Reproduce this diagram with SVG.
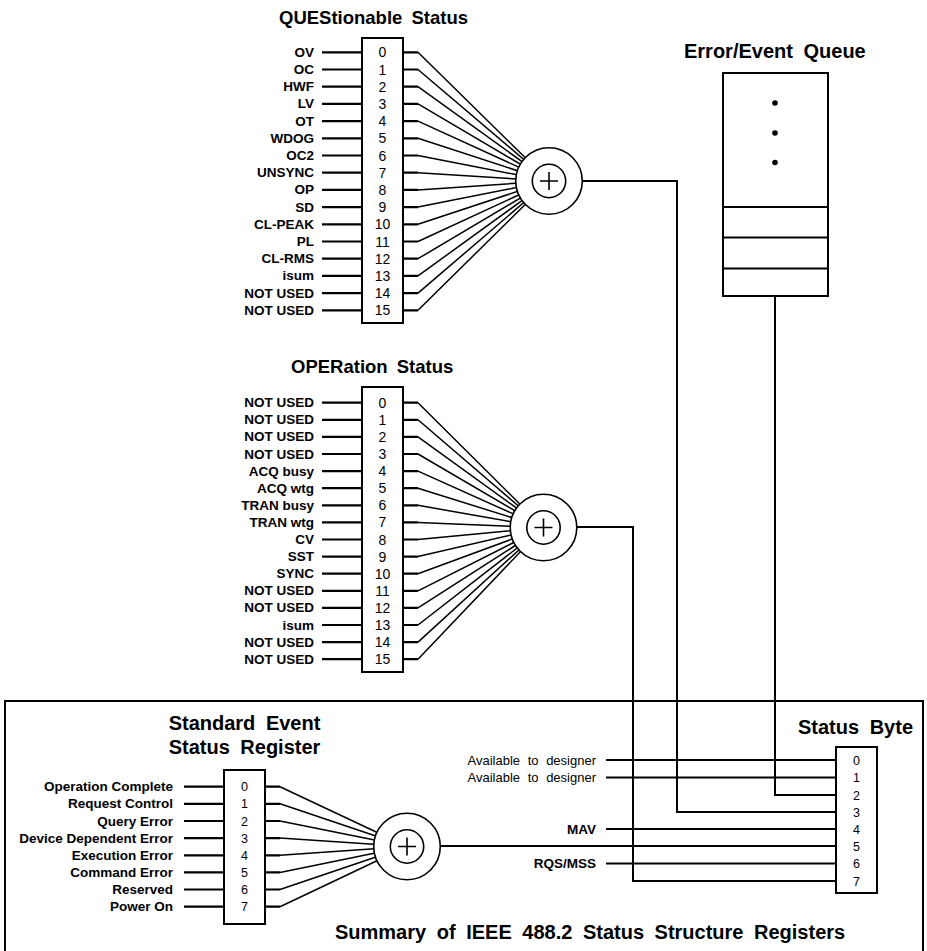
<svg xmlns="http://www.w3.org/2000/svg" width="927" height="951" viewBox="0 0 927 951">
<style>
text{font-family:"Liberation Sans",Arial,Helvetica,sans-serif;fill:#000}
.title{font-size:20px;font-weight:bold;word-spacing:5px}
.title2{font-size:18.5px;font-weight:bold;word-spacing:4px}
.lbl{font-size:13.5px;font-weight:bold;text-anchor:end}
.lblr{font-size:13px;text-anchor:end;word-spacing:4px}
.dig{font-size:14px;text-anchor:middle}
.dsm{font-size:12.5px;text-anchor:middle}
.box{fill:#fff;stroke:#000;stroke-width:2}
.sum{fill:#fff;stroke:#000;stroke-width:1.6}
.in{stroke:#000;stroke-width:2.2;fill:none}
.fan{stroke:#000;stroke-width:1.5;fill:none}
.wire{stroke:#000;stroke-width:2;fill:none}
</style>
<rect width="927" height="951" fill="#fff"/>
<!-- frame -->
<path d="M5,952 V701 H923 V952" fill="none" stroke="#000" stroke-width="2"/>
<g id="connectors">
  <!-- QUES inputs -->
  <g class="in">
    <path d="M322,52.3H362M322,69.5H362M322,86.7H362M322,103.9H362M322,121.1H362M322,138.3H362M322,155.5H362M322,172.7H362M322,189.9H362M322,207.1H362M322,224.3H362M322,241.5H362M322,258.7H362M322,275.9H362M322,293.1H362M322,310.3H362"/>
    <path d="M403,52.3H418M403,69.5H418M403,86.7H418M403,103.9H418M403,121.1H418M403,138.3H418M403,155.5H418M403,172.7H418M403,189.9H418M403,207.1H418M403,224.3H418M403,241.5H418M403,258.7H418M403,275.9H418M403,293.1H418M403,310.3H418"/>
  </g>
  <g class="fan">
    <path d="M418,52.3L549,181M418,69.5L549,181M418,86.7L549,181M418,103.9L549,181M418,121.1L549,181M418,138.3L549,181M418,155.5L549,181M418,172.7L549,181M418,189.9L549,181M418,207.1L549,181M418,224.3L549,181M418,241.5L549,181M418,258.7L549,181M418,275.9L549,181M418,293.1L549,181M418,310.3L549,181"/>
  </g>
  <!-- OPER inputs -->
  <g class="in">
    <path d="M322,402.7H362M322,419.8H362M322,436.9H362M322,454H362M322,471.1H362M322,488.2H362M322,505.3H362M322,522.4H362M322,539.5H362M322,556.6H362M322,573.7H362M322,590.8H362M322,607.9H362M322,625H362M322,642.1H362M322,659.2H362"/>
    <path d="M403,402.7H418M403,419.8H418M403,436.9H418M403,454H418M403,471.1H418M403,488.2H418M403,505.3H418M403,522.4H418M403,539.5H418M403,556.6H418M403,573.7H418M403,590.8H418M403,607.9H418M403,625H418M403,642.1H418M403,659.2H418"/>
  </g>
  <g class="fan">
    <path d="M418,402.7L543.5,527.5M418,419.8L543.5,527.5M418,436.9L543.5,527.5M418,454L543.5,527.5M418,471.1L543.5,527.5M418,488.2L543.5,527.5M418,505.3L543.5,527.5M418,522.4L543.5,527.5M418,539.5L543.5,527.5M418,556.6L543.5,527.5M418,573.7L543.5,527.5M418,590.8L543.5,527.5M418,607.9L543.5,527.5M418,625L543.5,527.5M418,642.1L543.5,527.5M418,659.2L543.5,527.5"/>
  </g>
  <!-- SESR inputs -->
  <g class="in">
    <path d="M184,786.7H224M184,803.8H224M184,821H224M184,838.1H224M184,855.3H224M184,872.4H224M184,889.5H224M184,906.7H224"/>
    <path d="M265,786.7H280M265,803.8H280M265,821H280M265,838.1H280M265,855.3H280M265,872.4H280M265,889.5H280M265,906.7H280"/>
  </g>
  <g class="fan">
    <path d="M280,786.7L407,846.5M280,803.8L407,846.5M280,821L407,846.5M280,838.1L407,846.5M280,855.3L407,846.5M280,872.4L407,846.5M280,889.5L407,846.5M280,906.7L407,846.5"/>
  </g>
  <!-- summary wires to status byte -->
  <g class="wire">
    <path d="M582,181H677V812H836"/>
    <path d="M577,527H633V881H836"/>
    <path d="M775,296V795H836"/>
    <path d="M606,760H836"/>
    <path d="M606,777.5H836"/>
    <path d="M606,829H836"/>
    <path d="M440,846H836"/>
    <path d="M606,863.5H836"/>
  </g>
</g>
<g id="questionable">
  <text class="title2" x="279" y="24">QUEStionable Status</text>
  <rect class="box" x="362" y="38" width="41" height="285"/>
  <g class="dig">
    <text x="382.5" y="57.3">0</text><text x="382.5" y="74.5">1</text><text x="382.5" y="91.7">2</text><text x="382.5" y="108.9">3</text>
    <text x="382.5" y="126.1">4</text><text x="382.5" y="143.3">5</text><text x="382.5" y="160.5">6</text><text x="382.5" y="177.7">7</text>
    <text x="382.5" y="194.9">8</text><text x="382.5" y="212.1">9</text><text x="382.5" y="229.3">10</text><text x="382.5" y="246.5">11</text>
    <text x="382.5" y="263.7">12</text><text x="382.5" y="280.9">13</text><text x="382.5" y="298.1">14</text><text x="382.5" y="315.3">15</text>
  </g>
  <g class="lbl">
    <text x="314" y="56.8">OV</text><text x="314" y="74">OC</text><text x="314" y="91.2">HWF</text><text x="314" y="108.4">LV</text>
    <text x="314" y="125.6">OT</text><text x="314" y="142.8">WDOG</text><text x="314" y="160">OC2</text><text x="314" y="177.2">UNSYNC</text>
    <text x="314" y="194.4">OP</text><text x="314" y="211.6">SD</text><text x="314" y="228.8">CL-PEAK</text><text x="314" y="246">PL</text>
    <text x="314" y="263.2">CL-RMS</text><text x="314" y="280.4">isum</text><text x="314" y="297.6">NOT USED</text><text x="314" y="314.8">NOT USED</text>
  </g>
</g>
<g id="ques-sum">
  <circle class="sum" cx="549" cy="181" r="33.3"/>
  <circle class="sum" cx="549" cy="181" r="16.7"/>
  <path d="M540,181H558M549,172V190" stroke="#000" stroke-width="1.6"/>
</g>
<g id="operation">
  <text class="title2" x="291" y="373">OPERation Status</text>
  <rect class="box" x="362" y="387" width="41" height="285"/>
  <g class="dig">
    <text x="382.5" y="407.7">0</text><text x="382.5" y="424.8">1</text><text x="382.5" y="441.9">2</text><text x="382.5" y="459">3</text>
    <text x="382.5" y="476.1">4</text><text x="382.5" y="493.2">5</text><text x="382.5" y="510.3">6</text><text x="382.5" y="527.4">7</text>
    <text x="382.5" y="544.5">8</text><text x="382.5" y="561.6">9</text><text x="382.5" y="578.7">10</text><text x="382.5" y="595.8">11</text>
    <text x="382.5" y="612.9">12</text><text x="382.5" y="630">13</text><text x="382.5" y="647.1">14</text><text x="382.5" y="664.2">15</text>
  </g>
  <g class="lbl">
    <text x="314" y="407.2">NOT USED</text><text x="314" y="424.3">NOT USED</text><text x="314" y="441.4">NOT USED</text><text x="314" y="458.5">NOT USED</text>
    <text x="314" y="475.6">ACQ busy</text><text x="314" y="492.7">ACQ wtg</text><text x="314" y="509.8">TRAN busy</text><text x="314" y="526.9">TRAN wtg</text>
    <text x="314" y="544">CV</text><text x="314" y="561.1">SST</text><text x="314" y="578.2">SYNC</text><text x="314" y="595.3">NOT USED</text>
    <text x="314" y="612.4">NOT USED</text><text x="314" y="629.5">isum</text><text x="314" y="646.6">NOT USED</text><text x="314" y="663.7">NOT USED</text>
  </g>
</g>
<g id="oper-sum">
  <circle class="sum" cx="543.5" cy="527.5" r="33.3"/>
  <circle class="sum" cx="543.5" cy="527.5" r="16.7"/>
  <path d="M534.5,527.5H552.5M543.5,518.5V536.5" stroke="#000" stroke-width="1.6"/>
</g>
<g id="error-queue">
  <text class="title" x="684" y="58">Error/Event Queue</text>
  <rect class="box" x="723" y="73" width="105" height="223"/>
  <path d="M723,207H828M723,237.5H828M723,268.5H828" stroke="#000" stroke-width="2"/>
  <circle cx="775" cy="103" r="2.8"/>
  <circle cx="775" cy="133" r="2.8"/>
  <circle cx="775" cy="162.5" r="2.8"/>
</g>
<g id="standard-event">
  <text class="title" x="244.5" y="730" text-anchor="middle">Standard Event</text>
  <text class="title" x="244.5" y="754" text-anchor="middle">Status Register</text>
  <rect class="box" x="224" y="770" width="41" height="154"/>
  <g class="dsm">
    <text x="244.5" y="791.2">0</text><text x="244.5" y="808.3">1</text><text x="244.5" y="825.5">2</text><text x="244.5" y="842.6">3</text>
    <text x="244.5" y="859.8">4</text><text x="244.5" y="876.9">5</text><text x="244.5" y="894">6</text><text x="244.5" y="911.2">7</text>
  </g>
  <g class="lbl">
    <text x="173" y="791.2">Operation Complete</text><text x="173" y="808.3">Request Control</text>
    <text x="173" y="825.5">Query Error</text><text x="173" y="842.6">Device Dependent Error</text>
    <text x="173" y="859.8">Execution Error</text><text x="173" y="876.9">Command Error</text>
    <text x="173" y="894">Reserved</text><text x="173" y="911.2">Power On</text>
  </g>
</g>
<g id="sesr-sum">
  <circle class="sum" cx="407" cy="846.5" r="33.3"/>
  <circle class="sum" cx="407" cy="846.5" r="16.7"/>
  <path d="M398,846.5H416M407,837.5V855.5" stroke="#000" stroke-width="1.6"/>
</g>
<g id="status-byte">
  <text class="title" x="798" y="734">Status Byte</text>
  <rect class="box" x="836" y="747" width="41" height="146"/>
  <g class="dsm">
    <text x="856.5" y="764.5">0</text><text x="856.5" y="782">1</text><text x="856.5" y="799.5">2</text><text x="856.5" y="816.5">3</text>
    <text x="856.5" y="833.5">4</text><text x="856.5" y="850.5">5</text><text x="856.5" y="868">6</text><text x="856.5" y="885.5">7</text>
  </g>
  <text class="lblr" x="596" y="764.5">Available to designer</text>
  <text class="lblr" x="596" y="782">Available to designer</text>
  <text class="lbl" x="596" y="833.5">MAV</text>
  <text class="lbl" x="596" y="868">RQS/MSS</text>
</g>
<text class="title" x="335" y="939">Summary of IEEE 488.2 Status Structure Registers</text>
</svg>
